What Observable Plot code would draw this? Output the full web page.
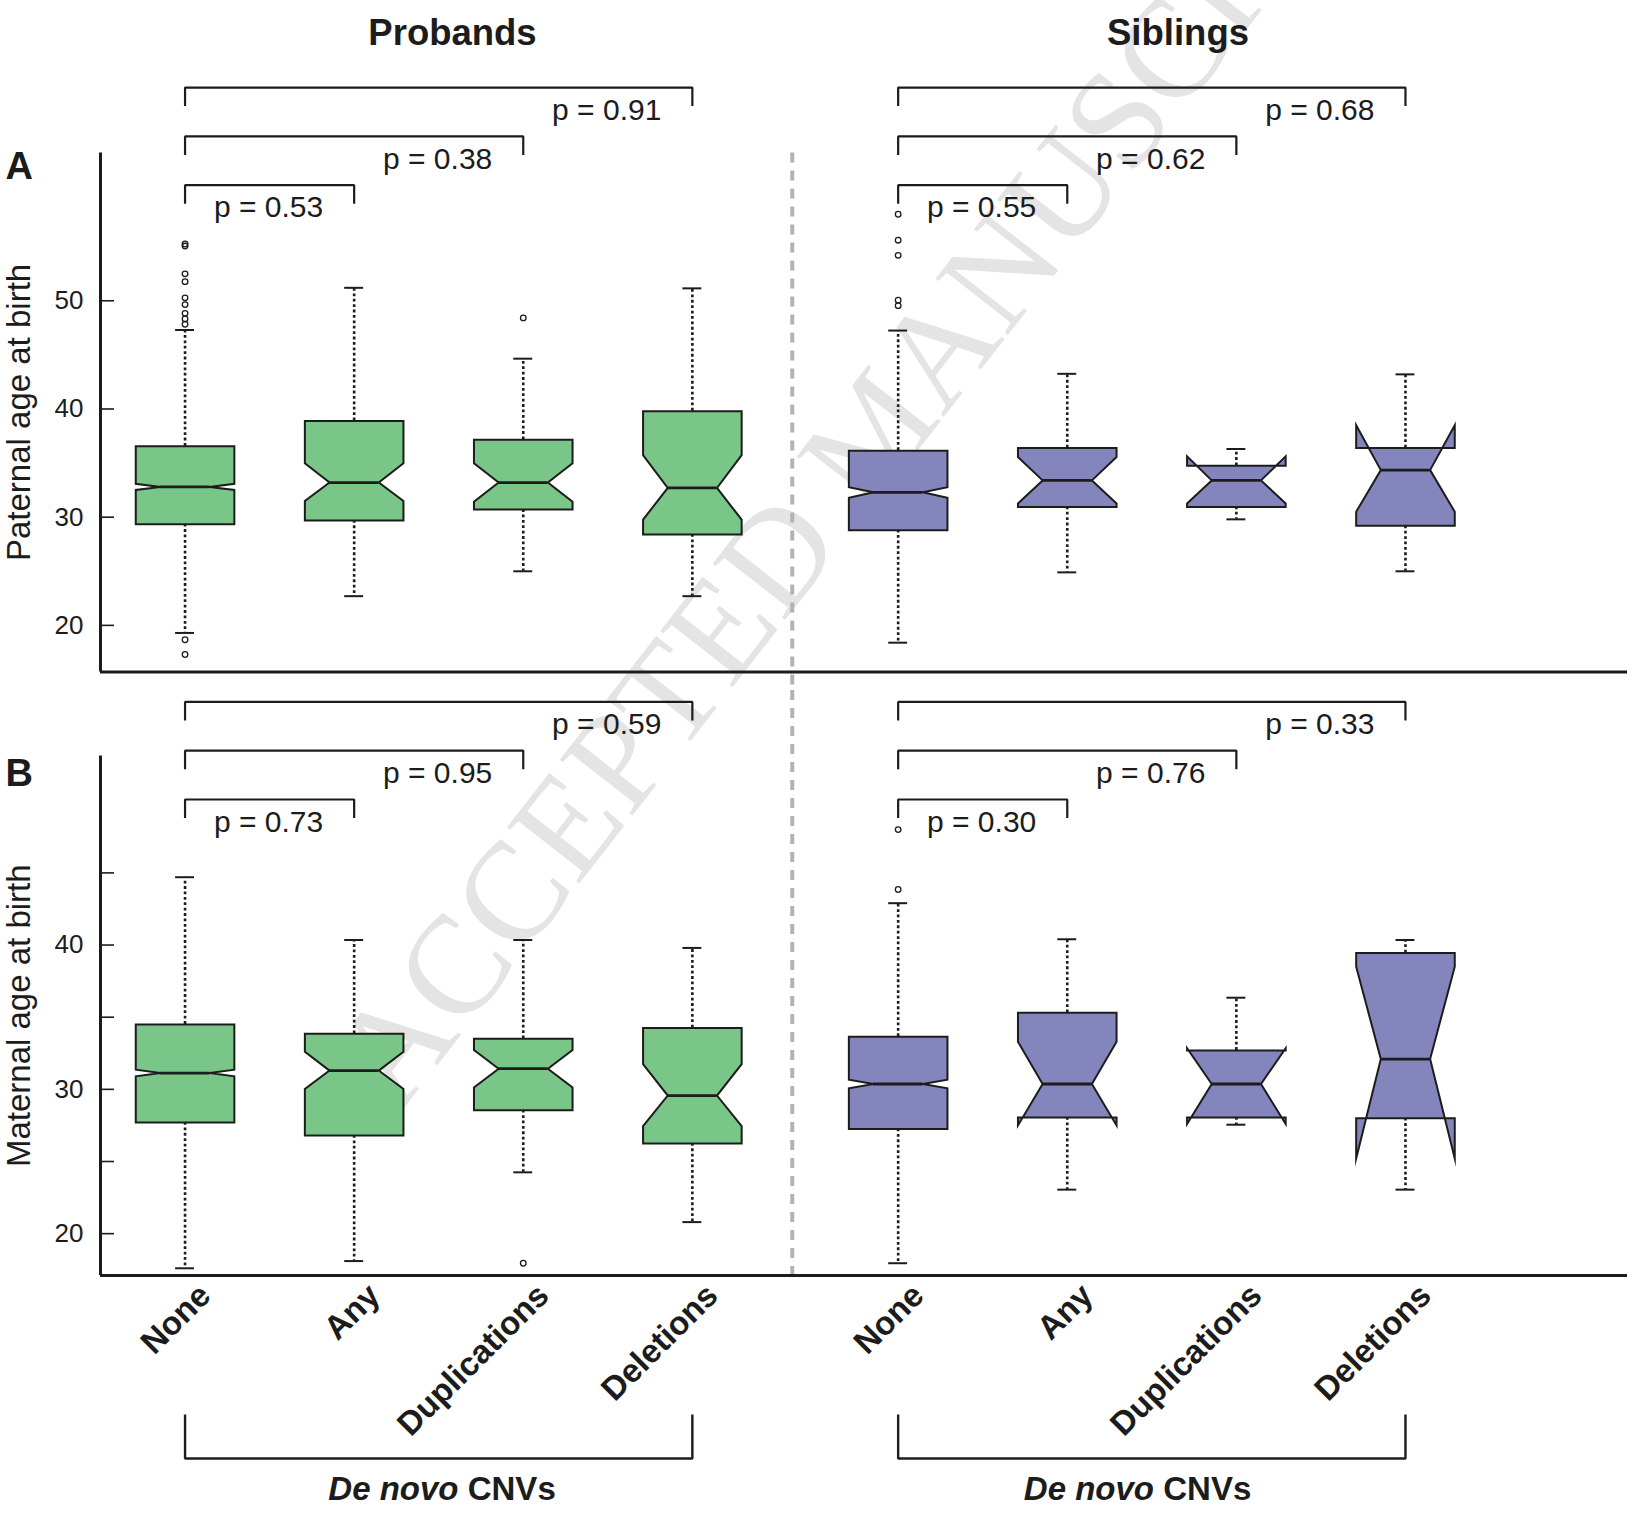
<!DOCTYPE html>
<html>
<head>
<meta charset="utf-8">
<script src="https://cdn.jsdelivr.net/npm/d3@7"></script>
<script src="https://cdn.jsdelivr.net/npm/@observablehq/plot@0.6"></script>
<style>
  html, body { margin: 0; padding: 0; background: #fff; }
  #root { position: relative; width: 1627px; height: 1513px; overflow: hidden; background: #fff; }
  #root > * { position: absolute; left: 0; }
</style>
</head>
<body>
<div id="root">
  <svg id="wm" width="1627" height="1513" style="top:0">
    <text transform="translate(399.5,1113.5) rotate(-52)" font-family="'Liberation Serif','DejaVu Serif',serif" font-size="140" fill="#e4e4e4">ACCEPTED MANUSCRIPT</text>
  </svg>
  <div id="panelA" style="top:0"></div>
  <div id="panelB" style="top:690px"></div>
</div>
<script>
// ---------------- data ----------------
const groups = ["Probands", "Siblings"];
const categories = ["None", "Any", "Duplications", "Deletions"];

// Panel A – paternal age at birth (Probands None..Deletions, then Siblings None..Deletions)
const paternalLow     = [19.3, 22.7, 25.0, 22.7, 18.4, 24.9, 29.8, 25.0];
const paternalQ1      = [29.35, 29.7, 30.7, 28.4, 28.8, 30.95, 30.95, 29.2];
const paternalMedian  = [32.8, 33.2, 33.2, 32.7, 32.3, 33.4, 33.4, 34.35];
const paternalQ3      = [36.55, 38.9, 37.15, 39.8, 36.15, 36.4, 34.75, 36.4];
const paternalHigh    = [47.3, 51.2, 44.65, 51.15, 47.25, 43.25, 36.3, 43.2];
const paternalNotchLo = [32.52, 31.5, 31.43, 29.77, 31.8, 31.27, 31.27, 30.5];
const paternalNotchHi = [33.08, 34.98, 34.98, 35.73, 32.77, 35.56, 35.63, 38.5];
const paternalOutliers = [ // [box index, age]
  [0, 55.25], [0, 55.06], [0, 52.49], [0, 51.77], [0, 50.27], [0, 49.65],
  [0, 48.84], [0, 48.32], [0, 47.83], [0, 18.67], [0, 17.31],
  [2, 48.42],
  [4, 58.0], [4, 55.6], [4, 54.2], [4, 50.05], [4, 49.55]
];
const paternalP = [0.53, 0.38, 0.91, 0.55, 0.62, 0.68]; // None vs Any / Dup / Del, per group
const paternalTicks = [20, 30, 40, 50];

// Panel B – maternal age at birth
const maternalLow     = [17.6, 18.1, 24.25, 20.8, 17.95, 23.05, 27.55, 23.05];
const maternalQ1      = [27.7, 26.8, 28.55, 26.25, 27.25, 28.05, 28.05, 28.0];
const maternalMedian  = [31.13, 31.3, 31.43, 29.57, 30.37, 30.37, 30.37, 32.1];
const maternalQ3      = [34.5, 33.85, 33.5, 34.25, 33.65, 35.3, 32.7, 39.45];
const maternalHigh    = [44.7, 40.35, 40.35, 39.8, 42.9, 40.4, 36.35, 40.35];
const maternalNotchLo = [30.9, 30.03, 30.13, 27.45, 30.07, 27.5, 27.6, 25.2];
const maternalNotchHi = [31.36, 32.6, 32.73, 31.75, 30.67, 33.3, 32.85, 38.5];
const maternalOutliers = [[2, 17.95], [4, 48.0], [4, 43.85]];
const maternalP = [0.73, 0.95, 0.59, 0.30, 0.76, 0.33];
const maternalTicks = [20, 25, 30, 35, 40, 45];

// ---------------- layout / style ----------------
const W = 1627, ML = 100;
const X_DOMAIN = [0.5, 9.53];
const GROUP_STRIDE = 4.217;
const HALF_BOX = 0.2915, NOTCH_FRAC = 0.5, HALF_CAP = 0.056;
const TITLE_DX = [13.8, 26.2];
const CNV_DX = [8.3, -9.3];
const FILL = {Probands: "#79c688", Siblings: "#8585be"};
const INK = "#1c1c1c";
const FONT = '"Liberation Sans", Arial, Helvetica, sans-serif';
const fmtP = d3.format(".2f");
const pos = (g, i) => 1 + g * GROUP_STRIDE + i;

function panel(cfg) {
  const {low, q1, median, q3, high, notchLo, notchHi, outliers, pvals, yDomain, ticks, tickFormat,
         height, marginTop, marginBottom, yTitle, letter, letterDy, bracketLowest, showTitles, showCategories,
         sepFrom, sepTo} = cfg;
  const frameH = height - marginTop - marginBottom;
  const ppu = frameH / (yDomain[1] - yDomain[0]);
  const yAt = off => yDomain[1] - off / ppu; // off = pixels below frame top

  const boxes = groups.flatMap((group, g) => categories.map((cat, i) => {
    const k = g * categories.length + i;
    return {group, cat, x: pos(g, i), low: low[k], q1: q1[k], median: median[k], q3: q3[k],
            high: high[k], lo: notchLo[k], hi: notchHi[k]};
  }));
  const poly = boxes.flatMap(b => {
    const L = b.x - HALF_BOX, R = b.x + HALF_BOX;
    const l = b.x - HALF_BOX * NOTCH_FRAC, r = b.x + HALF_BOX * NOTCH_FRAC;
    return [[L, b.q1], [R, b.q1], [R, b.lo], [r, b.median], [R, b.hi], [R, b.q3],
            [L, b.q3], [L, b.hi], [l, b.median], [L, b.lo]]
      .map(([px, py]) => ({id: b.group + b.cat, group: b.group, px, py}));
  });
  const outs = outliers.map(([k, v]) => ({x: boxes[k].x, v}));

  const brackets = groups.flatMap((group, g) => [1, 2, 3].map(j => ({
    id: group + j, x1: pos(g, 0), x2: pos(g, j),
    y: yAt(bracketLowest - (j - 1) * 48.8), yEnd: yAt(bracketLowest - (j - 1) * 48.8 + 18.5),
    p: pvals[g * 3 + j - 1]
  })));
  const bracketPts = brackets.flatMap(b => [[b.x1, b.yEnd], [b.x1, b.y], [b.x2, b.y], [b.x2, b.yEnd]]
    .map(([px, py]) => ({id: b.id, px, py})));

  const sepX = (pos(0, categories.length - 1) + pos(1, 0)) / 2;

  const marks = [
    // separator between groups
    Plot.ruleX([sepX], {y1: yAt(sepFrom), y2: yAt(sepTo), dx: -3, stroke: "#b3b3b3", strokeWidth: 4, strokeDasharray: "10,8"}),
    // whiskers
    Plot.ruleX(boxes, {x: "x", y1: "q3", y2: "high", stroke: INK, strokeWidth: 2.6, strokeDasharray: "2.8,2.6"}),
    Plot.ruleX(boxes, {x: "x", y1: "q1", y2: "low", stroke: INK, strokeWidth: 2.6, strokeDasharray: "2.8,2.6"}),
    Plot.ruleY(boxes, {y: "high", x1: d => d.x - HALF_CAP, x2: d => d.x + HALF_CAP, stroke: INK, strokeWidth: 2}),
    Plot.ruleY(boxes, {y: "low", x1: d => d.x - HALF_CAP, x2: d => d.x + HALF_CAP, stroke: INK, strokeWidth: 2}),
    // notched boxes
    ...groups.map(grp => Plot.line(poly.filter(p => p.group === grp), {
      x: "px", y: "py", z: "id", curve: "linear-closed", fill: FILL[grp], stroke: INK,
      strokeWidth: 2, strokeLinejoin: "miter", strokeMiterlimit: 10
    })),
    Plot.ruleY(boxes, {y: "median", x1: d => d.x - HALF_BOX * NOTCH_FRAC, x2: d => d.x + HALF_BOX * NOTCH_FRAC, stroke: INK, strokeWidth: 2.8}),
    Plot.dot(outs, {x: "x", y: "v", r: 2.8, stroke: INK, strokeWidth: 1.3, fill: "none"}),
    // axes
    Plot.axisY({ticks, tickFormat, tickSize: -14, tickPadding: 31, fontSize: 26, strokeWidth: 1.6, label: null}),
    Plot.ruleX([X_DOMAIN[0]], {stroke: INK, strokeWidth: 3}),
    Plot.ruleY([yDomain[0]], {stroke: INK, strokeWidth: 3}),
    // comparison brackets and p-values
    Plot.line(bracketPts, {x: "px", y: "py", z: "id", stroke: INK, strokeWidth: 2.2, strokeLinejoin: "miter", strokeLinecap: "butt"}),
    Plot.text(brackets, {x: "x2", y: "y", text: d => "p = " + fmtP(d.p), textAnchor: "end", lineAnchor: "middle", dx: -31, dy: 22.5, fontSize: 30, fill: INK}),
    // panel letter and y title
    Plot.text([letter], {frameAnchor: "top-left", lineAnchor: "middle", dx: -81.3, dy: letterDy, fontSize: 38, fontWeight: "bold", textAnchor: "middle", fill: INK}),
    Plot.text([yTitle], {frameAnchor: "left", lineAnchor: "middle", rotate: -90, dx: -81.3, fontSize: 33, textAnchor: "middle", fill: INK})
  ];

  if (showTitles) {
    groups.forEach((g, i) => marks.push(Plot.text([{g, x: pos(i, 0) + 1.5}], {
      x: "x", text: "g", frameAnchor: "top", lineAnchor: "middle", dy: -119.3, dx: TITLE_DX[i],
      fontSize: 36.5, fontWeight: "bold", fill: INK
    })));
  }
  if (showCategories) {
    marks.push(Plot.text(boxes, {
      x: "x", text: "cat", frameAnchor: "bottom", lineAnchor: "middle", rotate: -45, textAnchor: "end",
      dx: 20, dy: 14.5, fontSize: 33, fontWeight: "bold", fill: INK
    }));
    const cnv = groups.map((g, i) => ({id: g, i, x1: pos(i, 0), x2: pos(i, categories.length - 1), xc: pos(i, 0) + 1.5}));
    const cnvPts = cnv.flatMap(b => [[b.x1, yAt(frameH + 139)], [b.x1, yAt(frameH + 183)], [b.x2, yAt(frameH + 183)], [b.x2, yAt(frameH + 139)]]
      .map(([px, py]) => ({id: b.id, px, py})));
    marks.push(Plot.line(cnvPts, {x: "px", y: "py", z: "id", stroke: INK, strokeWidth: 2.4, strokeLinejoin: "miter", strokeLinecap: "butt"}));
    cnv.forEach(c => marks.push(
      Plot.text([c], {x: "xc", y: () => yAt(frameH + 214), text: () => "De novo", textAnchor: "end", lineAnchor: "middle", dx: 11.5 + CNV_DX[c.i], fontSize: 33, fontWeight: "bold", fontStyle: "italic", fill: INK}),
      Plot.text([c], {x: "xc", y: () => yAt(frameH + 214), text: () => "CNVs", textAnchor: "start", lineAnchor: "middle", dx: 20.7 + CNV_DX[c.i], fontSize: 33, fontWeight: "bold", fill: INK})
    ));
  }

  return Plot.plot({
    width: W, height, marginLeft: ML, marginRight: 0, marginTop, marginBottom,
    x: {domain: X_DOMAIN, axis: null},
    y: {domain: yDomain},
    style: {fontFamily: FONT, fontSize: "26px", color: INK, background: "transparent", overflow: "visible"},
    marks
  });
}

const A = panel({
  low: paternalLow, q1: paternalQ1, median: paternalMedian, q3: paternalQ3, high: paternalHigh,
  notchLo: paternalNotchLo, notchHi: paternalNotchHi, outliers: paternalOutliers, pvals: paternalP,
  yDomain: [15.7, 63.66], ticks: paternalTicks, tickFormat: d => String(d),
  height: 690, marginTop: 152.5, marginBottom: 18.6,
  yTitle: "Paternal age at birth", letter: "A", letterDy: 13.5, bracketLowest: 32.2,
  showTitles: true, showCategories: false, sepFrom: 0, sepTo: 537.5
});
const B = panel({
  low: maternalLow, q1: maternalQ1, median: maternalMedian, q3: maternalQ3, high: maternalHigh,
  notchLo: maternalNotchLo, notchHi: maternalNotchHi, outliers: maternalOutliers, pvals: maternalP,
  yDomain: [17.1, 53.1], ticks: maternalTicks, tickFormat: d => (d % 10 === 0 ? String(d) : ""),
  height: 823, marginTop: 65.5, marginBottom: 238,
  yTitle: "Maternal age at birth", letter: "B", letterDy: 17.5, bracketLowest: 43.5,
  showTitles: false, showCategories: true, sepFrom: -65.5, sepTo: 522.5
});
document.getElementById("panelA").appendChild(A);
document.getElementById("panelB").appendChild(B);
</script>
</body>
</html>
